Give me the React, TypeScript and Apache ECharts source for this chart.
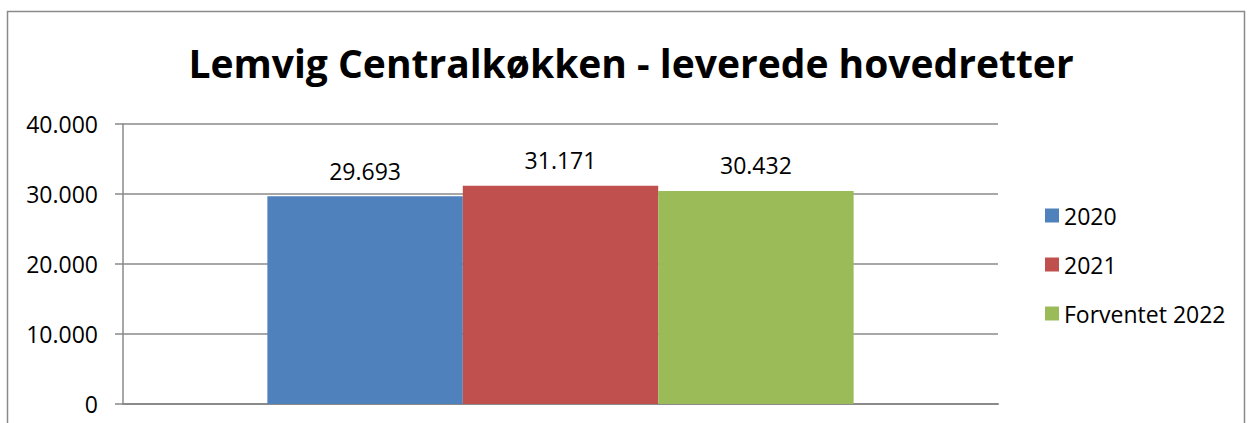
import React, { useEffect, useRef } from "react";
import * as echarts from "echarts";

const titleText = "Lemvig Centralkøkken - leverede hovedretter";
const categories = [""];
const seriesNames = ["2020", "2021", "Forventet 2022"];
const values2020 = [29693];
const values2021 = [31171];
const valuesForventet2022 = [30432];
const seriesColors = ["#4F81BD", "#C0504D", "#9BBB59"];
const yMin = 0;
const yMax = 40000;
const yInterval = 10000;

const fmt = (v: number) =>
  String(Math.round(v)).replace(/\B(?=(\d{3})+(?!\d))/g, ".");

const FONT = "'Open Sans', sans-serif";

export default function App() {
  const ref = useRef<HTMLDivElement>(null);
  useEffect(() => {
    if (!ref.current) return;
    const chart = echarts.init(ref.current, null, { renderer: "svg" });
    const allValues = [values2020, values2021, valuesForventet2022];
    chart.setOption({
      animation: false,
      backgroundColor: "#ffffff",
      textStyle: { fontFamily: FONT },
      graphic: [
        {
          type: "rect",
          shape: { x: 7.5, y: 11.5, width: 1237, height: 440 },
          style: { fill: "none", stroke: "#8a8a8a", lineWidth: 1.5 },
          silent: true,
        },
        {
          type: "text",
          x: 631,
          y: 62,
          style: {
            text: titleText,
            fontFamily: FONT,
            fontWeight: "bold",
            fontSize: 39,
            fill: "#000000",
            align: "center",
            verticalAlign: "middle",
          },
        },
      ],
      legend: {
        orient: "vertical",
        left: 1040,
        top: 199,
        itemWidth: 14,
        itemHeight: 14,
        itemGap: 26,
        icon: "rect",
        data: seriesNames,
        textStyle: {
          fontFamily: FONT,
          fontSize: 23,
          color: "#000000",
          lineHeight: 22,
        },
      },
      grid: { left: 123, top: 124, right: 255, bottom: 19, containLabel: false },
      xAxis: {
        type: "category",
        data: categories,
        axisLine: { show: true, lineStyle: { color: "#8a8a8a", width: 2 } },
        axisTick: { show: false },
        axisLabel: { show: false },
        splitLine: { show: false },
      },
      yAxis: {
        type: "value",
        min: yMin,
        max: yMax,
        interval: yInterval,
        axisLine: { show: true, lineStyle: { color: "#8a8a8a", width: 1.5 } },
        axisTick: { show: true, length: 8, lineStyle: { color: "#8a8a8a", width: 1.5 } },
        axisLabel: {
          margin: 25,
          fontFamily: FONT,
          fontSize: 23,
          color: "#000000",
          formatter: (v: number) => fmt(v),
        },
        splitLine: { show: true, lineStyle: { color: "#8a8a8a", width: 1.5 } },
      },
      series: seriesNames.map((name, i) => ({
        name,
        type: "bar",
        data: allValues[i],
        barGap: "0%",
        barCategoryGap: "33%",
        itemStyle: { color: seriesColors[i] },
        label: {
          show: true,
          position: "top",
          distance: 14,
          fontFamily: FONT,
          fontSize: 23,
          color: "#000000",
          formatter: (p: any) => fmt(p.value),
        },
      })),
    });
    return () => chart.dispose();
  }, []);
  return (
    <div
      ref={ref}
      style={{ position: "absolute", left: 0, top: 0, width: 1253, height: 423 }}
    />
  );
}
